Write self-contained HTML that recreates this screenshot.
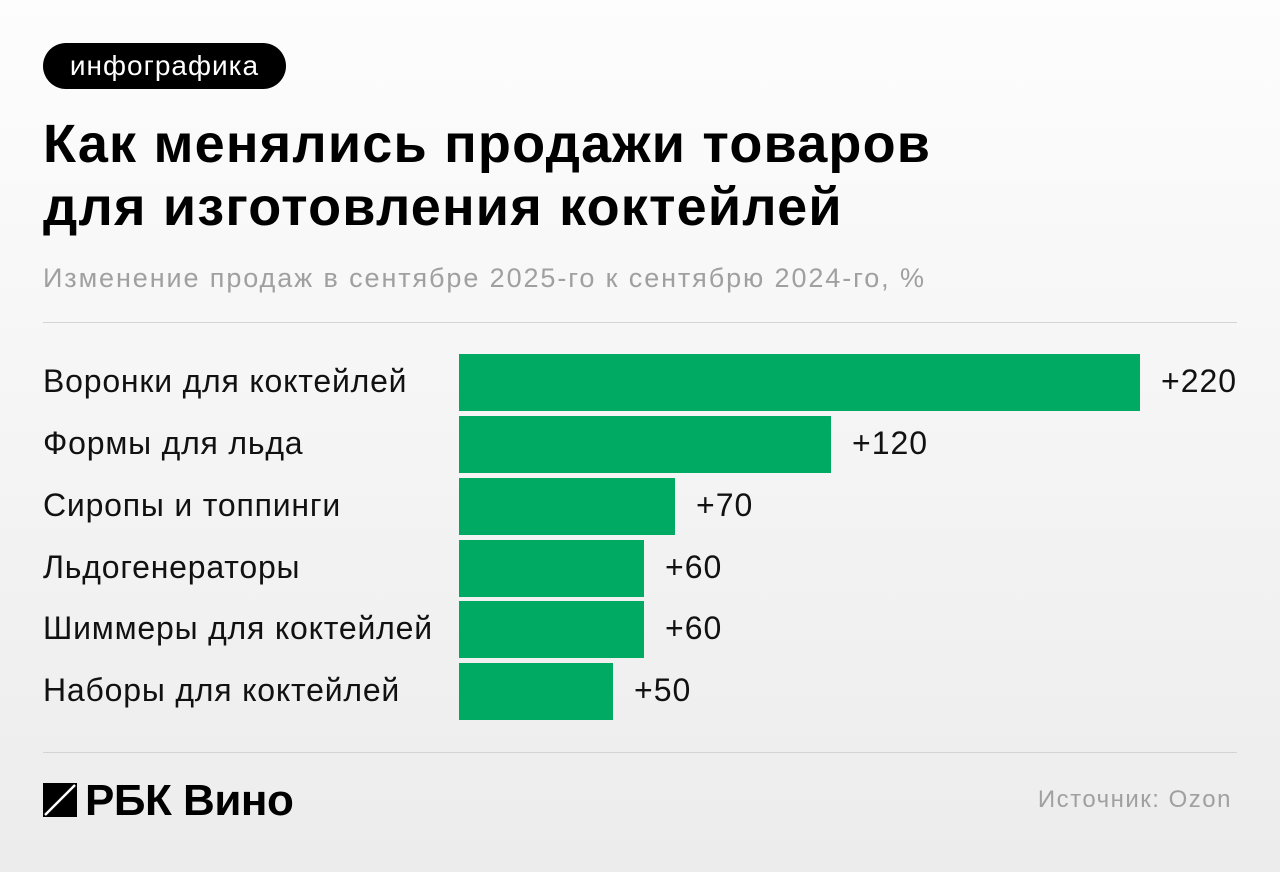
<!DOCTYPE html>
<html><head><meta charset="utf-8"><style>
body{margin:0;width:1280px;height:872px;overflow:hidden;background:linear-gradient(#fdfdfd,#ececec);font-family:"Liberation Sans",sans-serif;position:relative;color:#111}
.a{position:absolute;white-space:nowrap}
.badge{left:43px;top:43px;width:243px;height:46px;border-radius:23px;background:#000;color:#fff;font-size:28px;letter-spacing:1px;line-height:46px;text-align:center}
.t{left:43px;font-size:54px;font-weight:bold;letter-spacing:1.2px;color:#000}
.sub{left:43px;top:263px;font-size:27px;letter-spacing:1.9px;color:#a0a0a0}
.hr{left:43px;width:1194px;height:1px;background:#d4d4d4}
.lab{left:43px;font-size:32px;letter-spacing:0.8px;color:#111}
.bar{left:459px;height:57px;background:#00aa63}
.v{font-size:32px;letter-spacing:1px;color:#111}
</style></head><body>
<div class="a badge">инфографика</div>
<div class="a t" style="top:113px">Как менялись продажи товаров</div>
<div class="a t" style="top:176px">для изготовления коктейлей</div>
<div class="a sub">Изменение продаж в сентябре 2025-го к сентябрю 2024-го, %</div>
<div class="a hr" style="top:322px"></div>
<div class="a lab" style="top:363px">Воронки для коктейлей</div>
<div class="a bar" style="top:354px;width:681px"></div><div class="a v" style="left:1161px;top:363px">+220</div>
<div class="a lab" style="top:425px">Формы для льда</div>
<div class="a bar" style="top:416px;width:372px"></div><div class="a v" style="left:852px;top:425px">+120</div>
<div class="a lab" style="top:487px">Сиропы и топпинги</div>
<div class="a bar" style="top:478px;width:216px"></div><div class="a v" style="left:696px;top:487px">+70</div>
<div class="a lab" style="top:549px">Льдогенераторы</div>
<div class="a bar" style="top:540px;width:185px"></div><div class="a v" style="left:665px;top:549px">+60</div>
<div class="a lab" style="top:610px">Шиммеры для коктейлей</div>
<div class="a bar" style="top:601px;width:185px"></div><div class="a v" style="left:665px;top:610px">+60</div>
<div class="a lab" style="top:672px">Наборы для коктейлей</div>
<div class="a bar" style="top:663px;width:154px"></div><div class="a v" style="left:634px;top:672px">+50</div>
<div class="a hr" style="top:752px"></div>
<svg class="a" style="left:43px;top:783px" width="34" height="34"><rect width="34" height="34" fill="#000"/><line x1="2" y1="32" x2="32" y2="2" stroke="#fff" stroke-width="2.5"/></svg>
<div class="a" style="left:85px;top:776px;font-size:44px;font-weight:bold;color:#000;letter-spacing:-0.5px">РБК Вино</div>
<div class="a" style="right:48px;top:786px;font-size:24px;letter-spacing:1.5px;color:#a0a0a0">Источник: Ozon</div>
</body></html>
